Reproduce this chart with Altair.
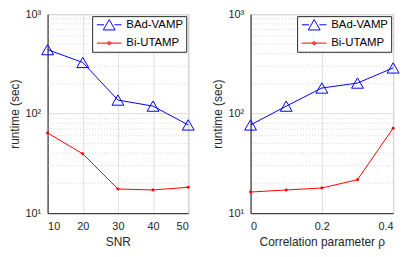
import altair as alt
import pandas as pd

# ---- data ----
series_names = ["BAd-VAMP", "Bi-UTAMP"]
series_colors = ["#0000ff", "#ff0000"]

snr = [10, 20, 30, 40, 50]
snr_badvamp = [440, 327, 137, 119, 77]
snr_biutamp = [64, 39.5, 17.5, 17.1, 18.2]

rho = [0, 0.1, 0.2, 0.3, 0.4]
rho_badvamp = [77, 119, 181, 203, 288]
rho_biutamp = [16.3, 17.1, 17.9, 21.7, 71.5]

snr_ticks = [10, 20, 30, 40, 50]
rho_ticks = [0, 0.2, 0.4]
y_major = [10, 100, 1000]
y_major_labels = ["10¹", "10²", "10³"]
y_minor = [20, 30, 40, 50, 60, 70, 80, 90, 200, 300, 400, 500, 600, 700, 800, 900]

FONT = "Liberation Sans"
DARK = "#262626"

label_expr = " : ".join(
    f"datum.value == {v} ? '{t}'" for v, t in zip(y_major, y_major_labels)
) + " : ''"

color_scale = alt.Scale(domain=series_names, range=series_colors)
# legend symbols: line + marker, as custom paths
legend_paths = [
    "M-2.5,0H-1.05M1.05,0H2.5M0,-1.04L1.2,1.04L-1.2,1.04Z",
    "M-2.5,0H2.5M0.3,0A0.3,0.3,0,1,1,-0.3,0A0.3,0.3,0,1,1,0.3,0",
]
shape_scale = alt.Scale(domain=series_names, range=legend_paths)


def panel(xvals, s1, s2, xtitle, xticks, xdomain, width):
    df = pd.DataFrame({
        "x": list(xvals) * 2,
        "y": list(s1) + list(s2),
        "series": [series_names[0]] * len(xvals) + [series_names[1]] * len(xvals),
    })
    minor = pd.DataFrame({"y": y_minor})

    xenc = alt.X("x:Q", title=xtitle,
                 scale=alt.Scale(domain=xdomain, nice=False, zero=False),
                 axis=alt.Axis(values=xticks, format=".1~f"))
    yscale = alt.Scale(type="log", domain=[10, 1000], nice=False)
    yenc = alt.Y("y:Q", title="runtime (sec)", scale=yscale,
                 axis=alt.Axis(values=y_major, labelExpr=label_expr))

    leg = alt.Legend(title=None, orient="top-right", offset=2,
                     strokeColor=DARK, fillColor="white", padding=3,
                     symbolSize=100, symbolStrokeWidth=1, symbolOffset=8.5,
                     labelOffset=11.5, labelFontSize=11.5, labelFont=FONT,
                     labelColor="black", rowPadding=4.5)

    base = alt.Chart(df)

    grid_minor = alt.Chart(minor).mark_rule(
        strokeDash=[1, 2], color="#c8c8c8", strokeWidth=0.8
    ).encode(y=yenc)

    layers = [grid_minor]
    for name, col in zip(series_names, series_colors):
        layers.append(
            base.transform_filter(alt.datum.series == name)
            .mark_line(strokeWidth=1, color=col)
            .encode(x=xenc, y=yenc)
        )
    layers.append(
        base.transform_filter(alt.datum.series == series_names[0])
        .mark_point(shape="triangle-up", size=144, filled=False,
                    strokeWidth=1, opacity=1, color=series_colors[0])
        .encode(x=xenc, y=yenc)
    )
    layers.append(
        base.transform_filter(alt.datum.series == series_names[1])
        .mark_point(shape="circle", size=9, filled=True, opacity=1,
                    color=series_colors[1])
        .encode(x=xenc, y=yenc)
    )
    layers.append(
        base.transform_filter("false").mark_point(
            filled=False, strokeWidth=1, opacity=1
        ).encode(
            x=xenc, y=yenc,
            color=alt.Color("series:N", scale=color_scale, legend=leg),
            shape=alt.Shape("series:N", scale=shape_scale, legend=leg),
        )
    )
    return alt.layer(*layers).properties(width=width, height=201)


left = panel(snr, snr_badvamp, snr_biutamp, "SNR", snr_ticks, [10, 50], 142)
right = panel(rho, rho_badvamp, rho_biutamp, "Correlation parameter ρ",
              rho_ticks, [0, 0.4], 144)

chart = alt.hconcat(left, right, spacing=63, bounds="flush").resolve_scale(
    color="independent", shape="independent"
).properties(
    padding={"left": 0, "top": -2, "right": 5, "bottom": 0}
).configure_view(
    stroke="#a0a0a0", strokeWidth=1
).configure_axis(
    grid=True, gridColor="#dedede", gridWidth=1,
    domainColor=DARK, domainWidth=1,
    tickSize=0, labelPadding=8,
    labelFont=FONT, labelFontSize=11, labelColor=DARK,
    titleFont=FONT, titleFontSize=12, titleColor=DARK,
    titleFontWeight="normal",
).configure_axisX(
    titlePadding=5
).configure_axisY(
    titlePadding=3, labelPadding=7
)

chart.save("out.html", embed_options={"renderer": "svg", "actions": False})
